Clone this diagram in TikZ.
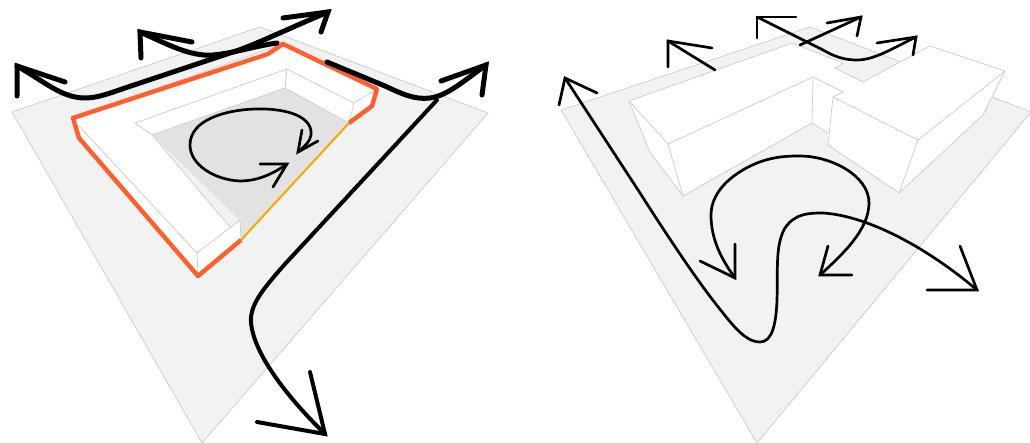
\documentclass[tikz,border=0pt]{standalone}
\usepackage{tikz}
\definecolor{groundgray}{HTML}{F2F2F2}
\definecolor{yardgray}{HTML}{E2E2E2}
\definecolor{edgegray}{HTML}{CCCCCC}
\definecolor{edgeorange}{HTML}{FF5F2E}
\definecolor{edgeyellow}{HTML}{F5A800}
\newcommand{\barbs}[3]{\draw[line join=miter] #1 -- #2 -- #3;}
\tikzset{
  ground/.style={fill=groundgray,draw=edgegray,line width=.7pt,line join=round},
  block/.style={fill=white,draw=edgegray,line width=.7pt,line join=round},
  thinedge/.style={draw=edgegray,line width=.7pt,line join=round},
  heavyflow/.style={line width=5pt,line cap=round,line join=round},
  midflow/.style={line width=4pt,line cap=round,line join=round},
  lightflow/.style={line width=2.7pt,line cap=round,line join=round},
}
\begin{document}
\begin{tikzpicture}[x=1pt,y=-1pt]
  \useasboundingbox (0,0) rectangle (1030,443);
  % left site
  \begin{scope}
    \draw[ground] (12,112) -- (260,27) -- (488,113) -- (202,443) -- cycle;
    \draw[block] (73,118) -- (283,44) -- (377,89) -- (372,106) -- (349,123) -- (285,88) -- (152,135)
      -- (241,240) -- (198,276) -- (79,138) -- cycle;
    \fill[yardgray] (152,135) -- (285,88) -- (349,123) -- (241,240) -- (240,220) -- cycle;
    \draw[block] (135,123) -- (287,69) -- (285,88) -- (152,135) -- cycle;
    \draw[block] (287,69) -- (354,103) -- (349,123) -- (285,88) -- cycle;
    \draw[block] (197,253) -- (240,220) -- (241,240) -- (198,276) -- cycle;
    \draw[thinedge] (78,125) -- (197,253);
    \draw[thinedge] (354,103) -- (377,89);
    \draw[line width=2pt,edgeyellow] (349,123) -- (241,240);
    \draw[line width=4.4pt,edgeorange,line join=round] (349,123) -- (372,106) -- (377,89) -- (283,44)
      -- (268,54) -- (73,118) -- (79,138) -- (198,276) -- (241,240);
    \begin{scope}[heavyflow]
      \draw (17,66) .. controls (45,82) and (62,98) .. (85,98) .. controls (100,98) and (115,91) .. (140,83)
        -- (233,52) .. controls (250,47) and (290,28) .. (328,12);
      \barbs{(17,96)}{(17,66)}{(65,82)}
      \barbs{(283,18)}{(328,12)}{(321,32)}
      \draw (140,32) .. controls (165,43) and (190,57) .. (213,55) .. controls (235,53) and (255,46) .. (277,43);
      \barbs{(141,58)}{(140,32)}{(192,42)}
      \draw (327,62) -- (385,86) .. controls (402,94) and (415,100) .. (430,98) .. controls (447,96) and (465,80) .. (486,65);
      \barbs{(441,81)}{(486,65)}{(482,95)}
    \end{scope}
    \begin{scope}[midflow]
      \draw (437,100) -- (285,264) .. controls (262,290) and (250,305) .. (251,322) .. controls (253,352) and (285,395) .. (325,434);
      \barbs{(310,372)}{(325,434)}{(257,422)}
    \end{scope}
    \begin{scope}[lightflow]
      \draw (287,164) .. controls (270,176) and (255,181) .. (240,181) .. controls (215,180) and (190,165) .. (190,145)
        .. controls (190,120) and (225,110) .. (255,109) .. controls (290,108) and (313,118) .. (311,135)
        .. controls (310,142) and (304,147) .. (298,152);
      \barbs{(260,164)}{(287,164)}{(273,187)}
      \barbs{(302,130)}{(298,152)}{(318,141)}
    \end{scope}
  \end{scope}
  % right site
  \begin{scope}
    \draw[ground] (561,110) -- (810,27) -- (1031,112) -- (757,443) -- cycle;
    \fill[white] (629,101) -- (792,43) -- (843,63) -- (835,68) -- (863,82) -- (900,62) -- (930,46)
      -- (1005,71) -- (983,115) -- (899,193) -- (828,145) -- (828,133) -- (812,123) -- (683,196) -- (650,152) -- cycle;
    \draw[thinedge] (792,43) -- (843,63) -- (835,68) -- (863,82) -- (900,62) -- (930,46)
      -- (1005,71) -- (918,140) -- (833,97) -- (843,92) -- (813,77) -- (668,144) -- (629,101) -- (792,43);
    \draw[thinedge] (1005,71) -- (983,115) -- (899,193) -- (918,140);
    \draw[thinedge] (629,101) -- (650,152) -- (683,196) -- (668,144);
    \draw[thinedge] (683,196) -- (812,123) -- (813,77);
    \draw[thinedge] (812,123) -- (828,133);
    \draw[thinedge] (833,97) -- (828,145) -- (899,193);
    \begin{scope}[lightflow]
      \draw (715,70) -- (668,41);
      \barbs{(668,67)}{(668,41)}{(712,48)}
      \draw (757,17) -- (823,50) .. controls (835,57) and (845,60) .. (857,60) .. controls (875,60) and (895,47) .. (916,37);
      \barbs{(757,38)}{(757,17)}{(796,17)}
      \barbs{(877,43)}{(916,37)}{(913,55)}
      \draw (800,45) -- (861,17);
      \barbs{(827,23)}{(861,17)}{(857,36)}
      \draw (565,78) -- (640,193) .. controls (670,240) and (700,285) .. (723,313) .. controls (740,335) and (750,342) .. (760,342)
        .. controls (772,342) and (776,325) .. (777,300) .. controls (778,270) and (775,245) .. (785,228)
        .. controls (795,213) and (810,213) .. (823,213) .. controls (870,216) and (930,250) .. (977,290);
      \barbs{(559,105)}{(565,78)}{(597,93)}
      \barbs{(960,246)}{(977,290)}{(927,290)}
      \draw (735,278) .. controls (722,260) and (711,240) .. (711,215) .. controls (711,190) and (735,172) .. (757,163)
        .. controls (775,156) and (790,156) .. (800,156) .. controls (830,156) and (869,175) .. (869,203)
        .. controls (869,230) and (842,255) .. (820,275);
      \barbs{(700,261)}{(735,278)}{(735,244)}
      \barbs{(828,246)}{(820,275)}{(852,275)}
    \end{scope}
  \end{scope}
\end{tikzpicture}
\end{document}
